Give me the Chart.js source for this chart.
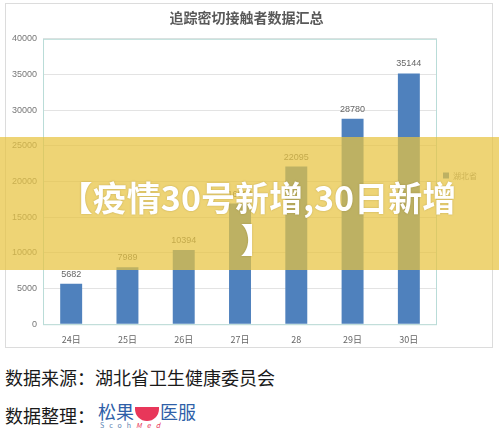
<!DOCTYPE html>
<html>
<head>
<meta charset="utf-8">
<script src="https://cdn.jsdelivr.net/npm/chart.js@4.4.0/dist/chart.umd.min.js"></script>
<style>
  body { margin: 0; width: 499px; height: 437px; background: #fff; position: relative; overflow: hidden; font-family: "Noto Sans CJK SC", sans-serif; }
  #box { position: absolute; left: 5px; top: 3px; width: 486px; height: 343px; border: 1px solid #dcdcdc; }
  #band { position: absolute; left: 0; top: 137px; width: 499px; height: 133px; background: rgba(232,196,64,0.72); }
  #bandText { position: absolute; left: 0; top: 176px; width: 499px; text-align: center; color: #fff; font-weight: bold; font-size: 34px; line-height: 42px; padding-left: 16px; box-sizing: border-box; text-shadow: 0 0 2px rgba(120,100,30,0.4); }
  .foot { position: absolute; left: 5px; font-size: 18px; color: #1a1a1a; }
  #logo { position: absolute; left: 98px; top: 398px; font-size: 18px; color: #2f5fa8; }
</style>
</head>
<body>
<div id="box"><canvas id="myChart" width="486" height="343"></canvas></div>
<div id="band"></div>
<div id="bandText">【疫情30号新增,30日新增<br>】</div>
<div class="foot" style="top:364px">数据来源：湖北省卫生健康委员会</div>
<div class="foot" style="top:402px">数据整理：</div>
<div id="logo">
  <span>松果</span><span style="display:inline-block;width:24px;height:14px;background:#e8375a;border-radius:0 0 12px 12px;margin:0 1px;vertical-align:middle"></span><span>医服</span>
  <div style="position:absolute;left:2px;top:22px;font-size:7px;letter-spacing:5px;color:#5b7fb0;white-space:nowrap">Scoh<span style="color:#e8375a;font-style:italic">Med</span></div>
</div>
<script>
var days = ['24日', '25日', '26日', '27日', '28', '29日', '30日']
var contacts = [5682, 7989, 10394, 16904, 22095, 28780, 35144]
var seriesName = '湖北省'
var yTicks = [0, 5000, 10000, 15000, 20000, 25000, 30000, 35000, 40000]

// values above bars
var valueLabels = {
    id: 'valueLabels',
    afterDatasetsDraw(chart) {
        let ctx = chart.ctx
        let meta = chart.getDatasetMeta(0)
        ctx.save()
        ctx.font = '9px "Liberation Sans", sans-serif'
        ctx.fillStyle = '#666'
        ctx.textAlign = 'center'
        ctx.textBaseline = 'bottom'
        meta.data.forEach((bar, i) => {
            ctx.fillText(chart.data.datasets[0].data[i], bar.x, bar.y - 5)
        })
        ctx.restore()
    }
}

// teal box round the plot
var plotBorder = {
    id: 'plotBorder',
    afterDatasetsDraw(chart) {
        let a = chart.chartArea
        let ctx = chart.ctx
        ctx.save()
        ctx.strokeStyle = '#b9dcd8'
        ctx.lineWidth = 1
        ctx.strokeRect(a.left + 0.5, a.top + 0.5, a.right - a.left - 1, a.bottom - a.top)
        ctx.restore()
    }
}

var ctx = document.getElementById('myChart')
var myChart = new Chart(ctx, {
    type: 'bar',
    data: {
        labels: days,
        datasets: [{
            label: seriesName,
            data: contacts,
            backgroundColor: '#4f81bd',
            barPercentage: 0.78,
            categoryPercentage: 0.5
        }]
    },
    options: {
        responsive: false,
        animation: false,
        layout: { padding: { top: 0, right: 5, left: 0, bottom: 0 } },
        plugins: {
            title: {
                display: true,
                text: '追踪密切接触者数据汇总',
                color: '#595959',
                font: { size: 14, family: '"Noto Sans CJK SC", sans-serif' },
                padding: { top: 5, bottom: 13 }
            },
            legend: {
                position: 'right',
                labels: {
                    boxWidth: 6,
                    boxHeight: 6,
                    color: '#888',
                    padding: 6,
                    font: { size: 8, family: '"Noto Sans CJK SC", sans-serif' }
                }
            },
            tooltip: { enabled: false }
        },
        scales: {
            x: {
                grid: { display: false },
                border: { display: false },
                ticks: { color: '#666', font: { size: 9, family: '"Noto Sans CJK SC", sans-serif' }, padding: 2 }
            },
            y: {
                min: 0,
                max: 40000,
                afterBuildTicks: (axis) => { axis.ticks = yTicks.map(v => ({ value: v })) },
                grid: { color: '#e3e3e3', drawTicks: false },
                border: { display: false },
                ticks: {
                    color: '#777',
                    font: { size: 9, family: '"Liberation Sans", sans-serif' },
                    padding: 6,
                    callback: (v) => String(v)
                }
            }
        }
    },
    plugins: [valueLabels, plotBorder]
});
</script>
</body>
</html>
